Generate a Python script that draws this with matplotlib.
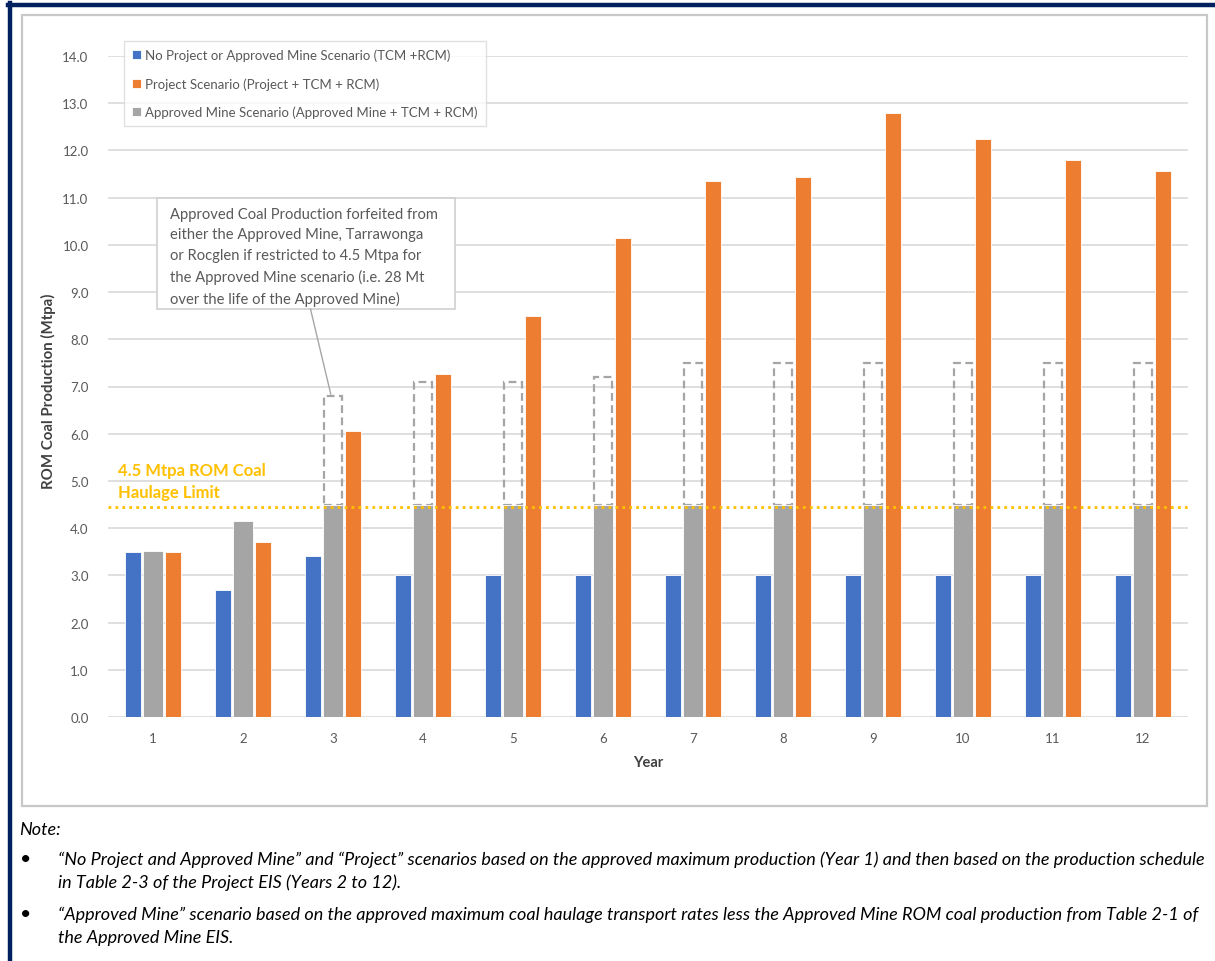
import matplotlib
matplotlib.use("Agg")
import matplotlib.pyplot as plt
from matplotlib.patches import Rectangle
from matplotlib.lines import Line2D
import numpy as np

plt.rcParams['font.family'] = ['Lato', 'DejaVu Sans']

# ---- data ----
years = [1, 2, 3, 4, 5, 6, 7, 8, 9, 10, 11, 12]
no_project = [3.5, 2.7, 3.4, 3.0, 3.0, 3.0, 3.0, 3.0, 3.0, 3.0, 3.0, 3.0]
approved_mine = [3.52, 4.16, 4.5, 4.5, 4.5, 4.5, 4.5, 4.5, 4.5, 4.5, 4.5, 4.5]
project = [3.5, 3.7, 6.05, 7.27, 8.5, 10.15, 11.36, 11.44, 12.8, 12.25, 11.8, 11.57]
# unrestricted approved-mine production (forfeited above the haulage limit)
approved_unrestricted = [None, None, 6.8, 7.1, 7.1, 7.2, 7.5, 7.5, 7.5, 7.5, 7.5, 7.5]
haulage_limit = 4.45
y_ticks = [0.0, 1.0, 2.0, 3.0, 4.0, 5.0, 6.0, 7.0, 8.0, 9.0, 10.0, 11.0, 12.0, 13.0, 14.0]

labels = ["No Project or Approved Mine Scenario (TCM +RCM)",
          "Project Scenario (Project + TCM + RCM)",
          "Approved Mine Scenario (Approved Mine + TCM + RCM)"]

BLUE = "#4472c4"
ORANGE = "#ed7d31"
GREY = "#a5a5a5"
GOLD = "#ffc000"
TEXT = "#595959"
GRID = "#d9d9d9"
NAVY = "#002060"

fig = plt.figure(figsize=(12.15, 9.62), dpi=100)
W, H = 1215, 962


def fx(px):
    return px / W


def fy(py):
    return 1 - py / H


# outer navy border (top and left)
fig.add_artist(Line2D([fx(8), 1.0], [fy(6), fy(6)], color=NAVY, lw=3.2,
                      transform=fig.transFigure))
fig.add_artist(Line2D([fx(10), fx(10)], [fy(4), 0.0], color=NAVY, lw=3.2,
                      transform=fig.transFigure))
# chart frame
fig.add_artist(Rectangle((fx(22), fy(807)), fx(1207) - fx(22), fy(16) - fy(807),
                         transform=fig.transFigure, fill=False,
                         edgecolor="#c8c8c8", lw=1.6))

ax = fig.add_axes([fx(108), fy(718), fx(1188) - fx(108), fy(57) - fy(718)])
x = np.array(years, dtype=float)
off = 0.222

ax.set_xlim(0.5, 12.5)
ax.set_ylim(0, 14)
ax.set_yticks(y_ticks)
ax.set_yticklabels([f"{v:.1f}" for v in y_ticks])
ax.set_xticks(x)
ax.set_xticklabels([str(y) for y in years])
ax.tick_params(axis='both', length=0, colors=TEXT, labelsize=9.5)
ax.tick_params(axis='y', pad=14)
ax.tick_params(axis='x', pad=11)
for s in ax.spines.values():
    s.set_visible(False)
ax.grid(axis='y', color=GRID, lw=1.2)
ax.set_axisbelow(True)

ax.bar(x - off, no_project, width=0.185, color=BLUE, edgecolor="white",
       lw=0.6, label=labels[0], zorder=3)
ax.bar(x + off, project, width=0.185, color=ORANGE, edgecolor="white",
       lw=0.6, label=labels[1], zorder=3)
ax.bar(x, approved_mine, width=0.215, color=GREY, edgecolor="white",
       lw=0.6, label=labels[2], zorder=3)

# dashed outlines for production forfeited above the limit
for xi, top in zip(x, approved_unrestricted):
    if top is None:
        continue
    ax.bar(xi, top - 4.5, bottom=4.5, width=0.19, fill=False,
           edgecolor=GREY, lw=1.6, linestyle=(0, (3.5, 2.0)), zorder=2)

# haulage limit
ax.axhline(haulage_limit, color=GOLD, lw=2.0, linestyle=(0, (1, 1.5)), zorder=4)
ax.text(0.615, 5.0, "4.5 Mtpa ROM Coal\nHaulage Limit", color=GOLD,
        fontsize=12, fontweight='bold', ha='left', va='center',
        linespacing=1.5, zorder=5)

# callout box
bx0, bx1 = 1.045, 4.35
by0, by1 = 8.64, 10.99
ax.add_patch(Rectangle((bx0, by0), bx1 - bx0, by1 - by0, facecolor="white",
                       edgecolor="#d0d0d0", lw=1.2, zorder=6))
ax.text(bx0 + 0.14, (by0 + by1) / 2 - 0.06,
        "Approved Coal Production forfeited from\n"
        "either the Approved Mine, Tarrawonga\n"
        "or Rocglen if restricted to 4.5 Mtpa for\n"
        "the Approved Mine scenario (i.e. 28 Mt\n"
        "over the life of the Approved Mine)",
        color=TEXT, fontsize=10.6, ha='left', va='center', linespacing=1.6,
        zorder=7)
ax.plot([2.75, 2.975], [by0, 6.84], color="#a6a6a6", lw=1.0, zorder=6)

# axis titles
fig.text(fx(48), fy(391), "ROM Coal Production (Mtpa)", fontsize=10.8,
         fontweight='bold', color="#404040", rotation=90, ha='center',
         va='center')
ax.set_xlabel("Year", fontsize=10.5, fontweight='bold', color="#404040",
              labelpad=8)

handles, labs = ax.get_legend_handles_labels()
leg = ax.legend(handles, labs,
                loc='upper left', bbox_to_anchor=(fx(124), fy(42)),
                bbox_transform=fig.transFigure, frameon=True, fancybox=False,
                fontsize=9.5, handlelength=0.7, handleheight=0.7,
                handletextpad=0.3, labelspacing=1.2, borderpad=0.6,
                borderaxespad=0)
leg.get_frame().set_edgecolor("#d9d9d9")
leg.get_frame().set_linewidth(1.0)
for t in leg.get_texts():
    t.set_color(TEXT)
leg.set_zorder(8)

# notes under the chart
note_kw = dict(fontsize=13.0, style='italic', color="black",
               transform=fig.transFigure, ha='left', va='center')
fig.text(fx(19), fy(830), "Note:", **note_kw)
fig.text(fx(20), fy(860), "\u2022", fontsize=14, transform=fig.transFigure,
         ha='left', va='center')
fig.text(fx(58), fy(860),
         "\u201cNo Project and Approved Mine\u201d and \u201cProject\u201d scenarios "
         "based on the approved maximum production (Year 1) and then based on "
         "the production schedule", **note_kw)
fig.text(fx(58), fy(883), "in Table 2-3 of the Project EIS (Years 2 to 12).",
         **note_kw)
fig.text(fx(20), fy(915), "\u2022", fontsize=14, transform=fig.transFigure,
         ha='left', va='center')
fig.text(fx(58), fy(915),
         "\u201cApproved Mine\u201d scenario based on the approved maximum coal "
         "haulage transport rates less the Approved Mine ROM coal production "
         "from Table 2-1 of", **note_kw)
fig.text(fx(58), fy(938), "the Approved Mine EIS.", **note_kw)

fig.savefig("out.png", dpi=100)
